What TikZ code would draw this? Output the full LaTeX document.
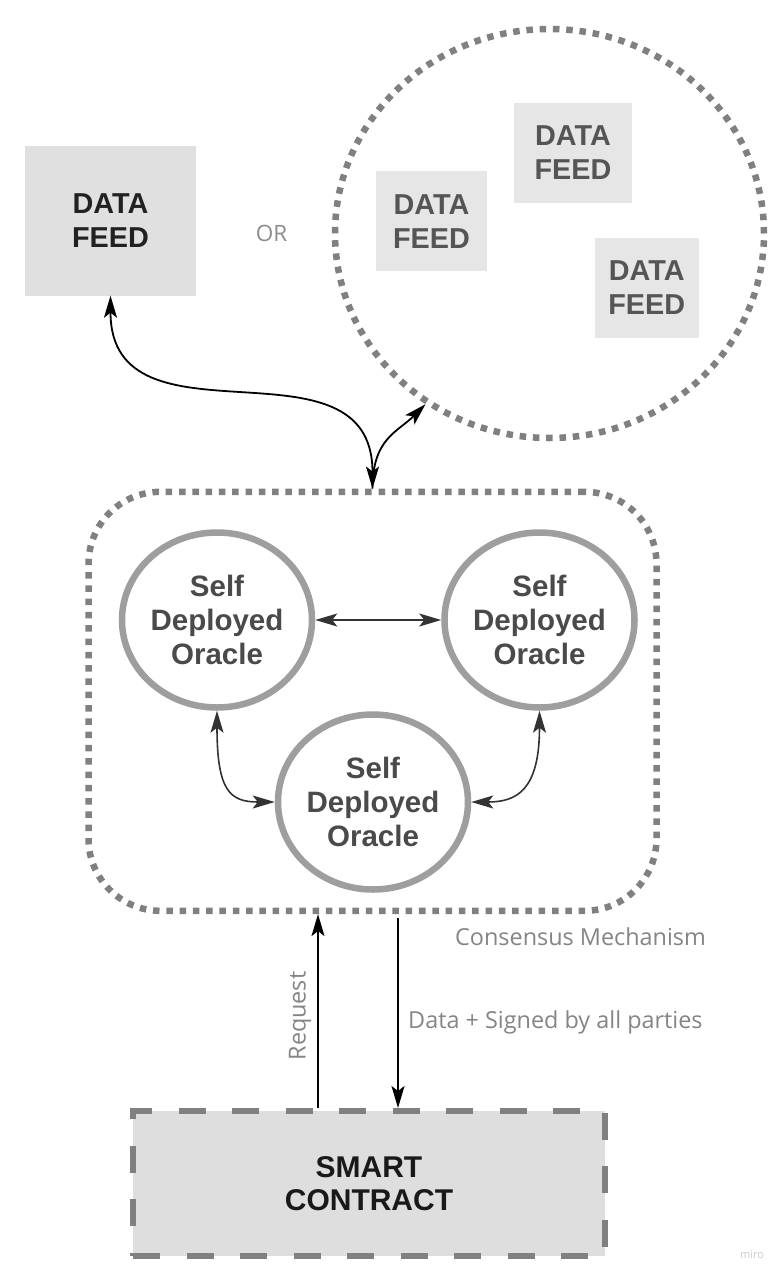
\documentclass[tikz,border=0pt]{standalone}
\usepackage{fontspec}
\setmainfont{Liberation Sans}
\newfontfamily\osans{Open Sans}
\usetikzlibrary{arrows.meta,shapes.geometric}
\definecolor{dotgray}{HTML}{808080}
\definecolor{ringgray}{HTML}{9E9E9E}
\definecolor{feedfill}{HTML}{E0E0E0}
\definecolor{feedfilltwo}{HTML}{E6E6E6}
\definecolor{scfill}{HTML}{DEDEDE}
\definecolor{oratext}{HTML}{4A4A4A}
\definecolor{feedtext}{HTML}{555555}
\definecolor{labgray}{HTML}{858585}
\definecolor{arrdark}{HTML}{333333}
\begin{document}
\begin{tikzpicture}[x=1pt,y=-1pt,
  feedbox/.style={rectangle, fill=feedfilltwo, text=feedtext, align=center, inner sep=0pt,
    minimum height=100pt, font=\bfseries\fontsize{28.8}{34}\selectfont},
  oracle/.style={ellipse, draw=ringgray, line width=6.5pt, fill=white, text=oratext, align=center,
    inner sep=0pt, minimum width=190pt, minimum height=175pt, font=\bfseries\fontsize{29.5}{34}\selectfont},
  dotline/.style={draw=dotgray, line width=6.5pt, dash pattern=on 6.5pt off 6.8pt},
  lab/.style={text=labgray, font=\osans\fontsize{23.4}{27}\selectfont, inner sep=0pt},
  blackarrow/.style={draw=black, line width=1.8pt},
  darkarrow/.style={draw=arrdark, line width=1.6pt},
  tip/.tip={Stealth[length=22pt, width=13pt, inset=5pt]}
]
\useasboundingbox[fill=white] (0,0) rectangle (782,1277);

% single data feed
\node[feedbox, fill=feedfill, text=black!87, minimum width=171pt, minimum height=150pt] (df) at (110.5,220.5) {DATA\\FEED};
\node[lab, text=dotgray!90, font=\osans\fontsize{22.5}{27}\selectfont, anchor=base] (or) at (271.5,241) {OR};

% cloud of data feeds
\node[ellipse, dotline, minimum width=429pt, minimum height=409pt, inner sep=0pt] (cloud) at (549.5,233.5) {};
\node[feedbox, minimum width=111pt] (dfa) at (431.5,221.3) {DATA\\FEED};
\node[feedbox, minimum width=118pt] (dfb) at (573,152.8) {DATA\\FEED};
\node[feedbox, minimum width=104pt] (dfc) at (646.7,287.5) {DATA\\FEED};

% consensus mechanism
\node[rectangle, dotline, rounded corners=72pt, minimum width=568pt, minimum height=419pt, inner sep=0pt] (cons) at (372.5,701.3) {};
\node[lab, anchor=base west] (conslab) at (455,945) {Consensus Mechanism};

% oracles
\node[oracle] (o1) at (217,620) {Self\\Deployed\\Oracle};
\node[oracle] (o2) at (539.5,620) {Self\\Deployed\\Oracle};
\node[oracle] (o3) at (373,802) {Self\\Deployed\\Oracle};

% smart contract
\node[rectangle, fill=scfill, draw=dotgray, line width=6pt, dash pattern=on 27pt off 26.5pt,
  minimum width=472pt, minimum height=145pt, inner sep=0pt, align=center,
  text=black!90, font=\bfseries\fontsize{30}{33}\selectfont] (sc) at (369,1183.5) {SMART\\CONTRACT};

% connectors top
\draw[blackarrow, {tip}-{tip}] (df.south) .. controls +(0,160) and +(0,-160) .. (cons.north);
\draw[blackarrow, -{tip}] (cons.north) .. controls +(0,-50) and +(-28,28) .. (cloud.234);

% oracle connectors
\draw[darkarrow, {tip}-{tip}] (o1.east) -- (o2.west);
\draw[darkarrow, {tip}-{tip}] (o1.south) .. controls +(0,80) and +(-45,0) .. (o3.west);
\draw[darkarrow, {tip}-{tip}] (o2.south) .. controls +(0,80) and +(45,0) .. (o3.east);

% request / data
\draw[blackarrow, -{tip}] ([xshift=-51pt]sc.north) -- ([xshift=-54.5pt]cons.south);
\draw[blackarrow, -{tip}] ([xshift=25.5pt,yshift=-4pt]cons.south) -- ([xshift=29pt]sc.north);
\node[lab, rotate=90] (req) at (300,1016) {Request};
\node[lab, anchor=base west] (datalab) at (408,1028) {Data + Signed by all parties};

% watermark
\node[text=black!20, font=\osans\fontsize{11}{13}\selectfont, inner sep=0pt] (miro) at (752,1255) {miro};
\end{tikzpicture}
\end{document}
